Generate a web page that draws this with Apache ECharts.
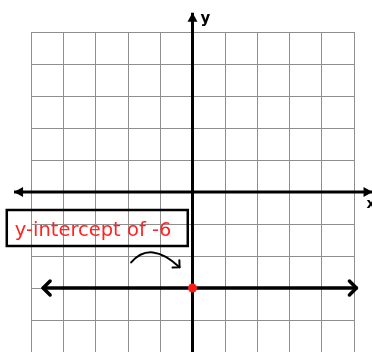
<!DOCTYPE html>
<html>
<head>
<meta charset="utf-8">
<script src="https://cdn.jsdelivr.net/npm/echarts@6/dist/echarts.min.js"></script>
<style>
  html, body { margin: 0; padding: 0; background: #fff; }
  #chart { width: 372px; height: 352px; }
</style>
</head>
<body>
<div id="chart"></div>
<script>
// axis range / grid step (each square = 2 units)
const axisMin = -10
const axisMax = 10
const gridStep = 2

// axis arrows (they stick out past the grid)
const xAxisLine = [[-11.05, 0], [11.15, 0]]
const yAxisLine = [[0, -10], [0, 11.2]]

// the horizontal line y = -6
const lineY = -6
const lineXs = [-9.25, 10.15]
const intercept = [[0, -6]]

// curved pointer arrow: start, control, end
const pointerArrow = [[-3.8, -4.4], [-2.6, -3.0], [-0.8, -4.7]]

// label box (top-left corner)
const labelText = 'y-intercept of -6'
const labelAnchor = [-11.5, -1.13]

const chart = echarts.init(document.getElementById('chart'))

const gray = '#8e8e8e'

function arrowHead (tip, from, len, half) {
  const dx = tip[0] - from[0]
  const dy = tip[1] - from[1]
  const d = Math.sqrt(dx * dx + dy * dy)
  const ux = dx / d
  const uy = dy / d
  const bx = tip[0] - ux * len
  const by = tip[1] - uy * len
  return [[tip[0], tip[1]], [bx - uy * half, by + ux * half], [bx + uy * half, by - ux * half]]
}

function chevron (tip, from, len) {
  const dx = tip[0] - from[0]
  const dy = tip[1] - from[1]
  const d = Math.sqrt(dx * dx + dy * dy)
  const ux = dx / d
  const uy = dy / d
  const bx = tip[0] - ux * len
  const by = tip[1] - uy * len
  return [[bx - uy * len, by + ux * len], [tip[0], tip[1]], [bx + uy * len, by - ux * len]]
}

const option = {
  animation: false,
  grid: { left: 31, right: 18, top: 32, bottom: 0 },
  xAxis: {
    type: 'value',
    min: axisMin,
    max: axisMax,
    interval: gridStep,
    axisLine: { show: false },
    axisTick: { show: false },
    axisLabel: { show: false },
    splitLine: { show: true, lineStyle: { color: gray, width: 1 } }
  },
  yAxis: {
    type: 'value',
    min: axisMin,
    max: axisMax,
    interval: gridStep,
    axisLine: { show: false },
    axisTick: { show: false },
    axisLabel: { show: false },
    splitLine: { show: true, lineStyle: { color: gray, width: 1 } }
  },
  series: [
    {
      // x and y axes with filled arrow heads
      type: 'custom',
      clip: false,
      data: [xAxisLine, yAxisLine],
      renderItem: (params, api) => {
        const seg = params.dataIndex === 0 ? xAxisLine : yAxisLine
        const a = api.coord(seg[0])
        const b = api.coord(seg[1])
        const children = [{
          type: 'line',
          shape: { x1: a[0], y1: a[1], x2: b[0], y2: b[1] },
          style: { stroke: '#000', lineWidth: 3 }
        }]
        children.push({
          type: 'polygon',
          shape: { points: arrowHead(b, a, 9, 5) },
          style: { fill: '#000' }
        })
        if (params.dataIndex === 0) {
          children.push({
            type: 'polygon',
            shape: { points: arrowHead(a, b, 9, 5) },
            style: { fill: '#000' }
          })
          children.push({
            type: 'text',
            style: { text: 'x', x: b[0] - 6, y: b[1] + 5, fill: '#000', font: 'bold 14px "DejaVu Sans"' }
          })
        } else {
          children.push({
            type: 'text',
            style: { text: 'y', x: b[0] + 8, y: b[1] - 1, fill: '#000', font: 'bold 15px "DejaVu Sans"' }
          })
        }
        return { type: 'group', children }
      }
    },
    {
      // line y = -6 with open arrow heads
      type: 'custom',
      clip: false,
      data: [lineXs],
      renderItem: (params, api) => {
        const a = api.coord([lineXs[0], lineY])
        const b = api.coord([lineXs[1], lineY])
        const st = { stroke: '#000', lineWidth: 3.5, fill: null, lineJoin: 'round', lineCap: 'round' }
        return {
          type: 'group',
          children: [
            { type: 'line', shape: { x1: a[0], y1: a[1], x2: b[0], y2: b[1] }, style: st },
            { type: 'polyline', shape: { points: chevron(a, b, 7) }, style: st },
            { type: 'polyline', shape: { points: chevron(b, a, 7) }, style: st }
          ]
        }
      }
    },
    {
      // curved pointer arrow
      type: 'custom',
      clip: false,
      data: [pointerArrow[0]],
      renderItem: (params, api) => {
        const s = api.coord(pointerArrow[0])
        const c = api.coord(pointerArrow[1])
        const e = api.coord(pointerArrow[2])
        const st = { stroke: '#000', lineWidth: 2, fill: null, lineCap: 'round', lineJoin: 'round' }
        return {
          type: 'group',
          children: [
            { type: 'bezierCurve', shape: { x1: s[0], y1: s[1], cpx1: c[0], cpy1: c[1], x2: e[0], y2: e[1] }, style: st },
            { type: 'polyline', shape: { points: chevron(e, c, 5) }, style: st }
          ]
        }
      }
    },
    {
      // label box
      type: 'custom',
      clip: false,
      data: [labelAnchor],
      renderItem: (params, api) => {
        const p = api.coord(labelAnchor)
        return {
          type: 'group',
          children: [
            {
              type: 'rect',
              shape: { x: p[0], y: p[1], width: 181, height: 36 },
              style: { stroke: '#000', lineWidth: 2.5, fill: null }
            },
            {
              type: 'text',
              style: {
                text: labelText,
                x: p[0] + 8,
                y: p[1] + 21,
                verticalAlign: 'middle',
                fill: '#ff2424',
                font: '19.5px "DejaVu Sans"'
              }
            }
          ]
        }
      }
    },
    {
      // y-intercept point
      type: 'scatter',
      data: intercept,
      symbolSize: 9,
      itemStyle: { color: '#ff1a1a', opacity: 1 },
      z: 5
    }
  ]
}

chart.setOption(option)
</script>
</body>
</html>
